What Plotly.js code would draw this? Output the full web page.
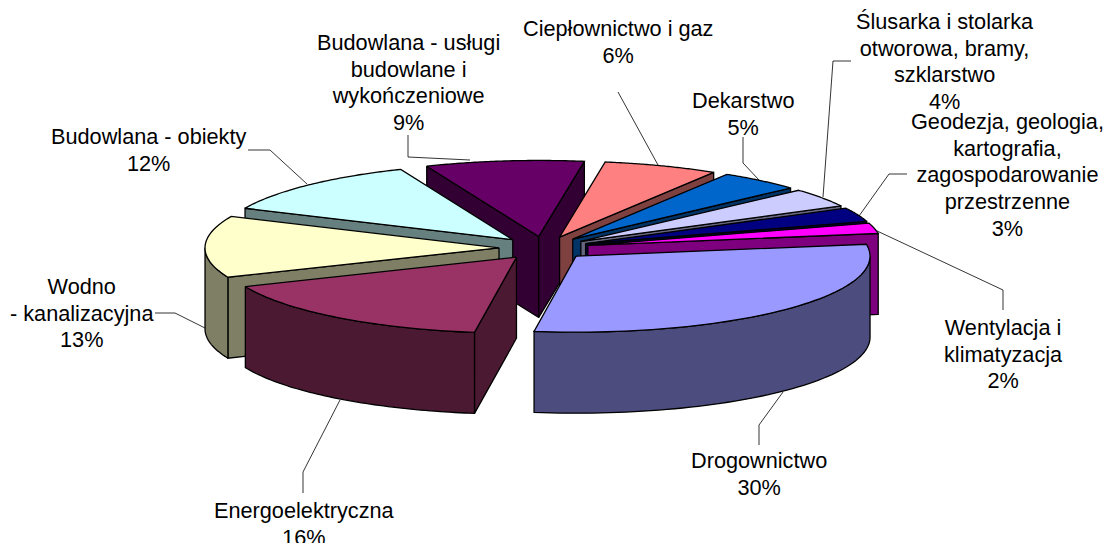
<!DOCTYPE html>
<html>
<head>
<meta charset="utf-8">
<script src="https://cdn.plot.ly/plotly-3.0.1.min.js"></script>
<style>html,body{margin:0;padding:0;background:#fff}#c{width:1106px;height:543px}</style>
</head>
<body>
<div id="c"></div>
<script>
const categories = ["Drogownictwo","Energoelektryczna","Wodno<br>- kanalizacyjna","Budowlana - obiekty","Budowlana - usługi<br>budowlane i<br>wykończeniowe","Ciepłownictwo i gaz","Dekarstwo","Ślusarka i stolarka<br>otworowa, bramy,<br>szklarstwo","Geodezja, geologia,<br>kartografia,<br>zagospodarowanie<br>przestrzenne","Wentylacja i<br>klimatyzacja"];
const values = [29.78,16.4,13.1,12,8.7,6.3,4.5,4,3,2.22];
const topColors = ["#9999FF","#993366","#FFFFCC","#CCFFFF","#660066","#FF8080","#0066CC","#CCCCFF","#000080","#FF00FF"];
const wallColors = ["#4C4C7F","#4C1933","#7F7F66","#667F7F","#330033","#7F4040","#003366","#666680","#000040","#7F007F"];
const labelX = [759,304,82,148,408,618,743,945,1007,1003];
const labelY = [474,524,313,150,82,42,114,61,175,354];
const leaderX = [[759,759,783],[303,303,340],[155,175,205],[248,270,307],[408,408,470],[618,618,658],[743,743,759],[851,833,823],[907,889,859],[1003,1003,875]];
const leaderY = [[445,425,392],[493,472,400],[313,313,328],[150,150,184],[135,157,160],[92,92,165],[137,163,180],[61,61,197],[174,174,216],[310,290,230]];

const cx=544, cy=248, rx=294, ry=76, depth=81, explode=0.153, startDeg=-9;
const rad=d=>d*Math.PI/180;
const traces=[];
const total=values.reduce((a,b)=>a+b,0);

categories.forEach((c,i)=>traces.push({type:'scatter',mode:'lines',x:leaderX[i],y:leaderY[i],
  line:{color:'#000',width:0.8},hoverinfo:'skip',showlegend:false}));

let acc=startDeg;
const slices=values.map((v,i)=>{const a1=acc;acc+=v/total*360;const a2=acc;return {i,a1,a2,mid:(a1+a2)/2};});
slices.sort((p,q)=>Math.sin(rad(p.mid))-Math.sin(rad(q.mid)));

function poly(xs,ys,fill,name){
  traces.push({type:'scatter',mode:'lines',x:xs.concat(xs[0]),y:ys.concat(ys[0]),fill:'toself',fillcolor:fill,
    line:{color:'#000',width:1.3,simplify:false},name:name,hoverinfo:'name',showlegend:false});
}
slices.forEach(s=>{
  const ax=cx+explode*rx*Math.cos(rad(s.mid)), ay=cy+explode*ry*Math.sin(rad(s.mid));
  const pt=a=>[ax+rx*Math.cos(rad(a)), ay+ry*Math.sin(rad(a))];
  const name=categories[s.i].replace(/<br>/g,' ');
  const face=a=>{const p=pt(a);poly([ax,p[0],p[0],ax],[ay,p[1],p[1]+depth,ay+depth],wallColors[s.i],name);};
  if(Math.cos(rad(s.a1))<0) face(s.a1);
  if(Math.cos(rad(s.a2))>0) face(s.a2);
  const lo=Math.max(s.a1,0), hi=Math.min(s.a2,180);
  if(hi>lo){
    const tx=[],ty=[],bx=[],by=[];
    for(let k=0;k<=60;k++){const p=pt(lo+(hi-lo)*k/60);tx.push(p[0]);ty.push(p[1]);bx.unshift(p[0]);by.unshift(p[1]+depth);}
    poly(tx.concat(bx),ty.concat(by),wallColors[s.i],name);
  }
  const xs=[ax],ys=[ay];
  for(let k=0;k<=60;k++){const p=pt(s.a1+(s.a2-s.a1)*k/60);xs.push(p[0]);ys.push(p[1]);}
  poly(xs,ys,topColors[s.i],name);
});

const annotations=categories.map((c,i)=>({xref:'x',yref:'y',x:labelX[i],y:labelY[i],xanchor:'center',yanchor:'middle',
  text:'<span style="font-size:21.7px">'+c+'<br>'+Math.round(values[i])+'%</span>',showarrow:false,align:'center',
  font:{family:'"Liberation Sans",Arial,sans-serif',size:20.5,color:'#000'}}));

Plotly.newPlot('c',traces,{
  width:1106,height:543,margin:{l:0,r:0,t:0,b:0},paper_bgcolor:'#fff',plot_bgcolor:'#fff',showlegend:false,
  xaxis:{range:[0,1106],visible:false,fixedrange:true},
  yaxis:{range:[543,0],visible:false,fixedrange:true},
  annotations
},{displayModeBar:false,staticPlot:true});
</script>
</body>
</html>
